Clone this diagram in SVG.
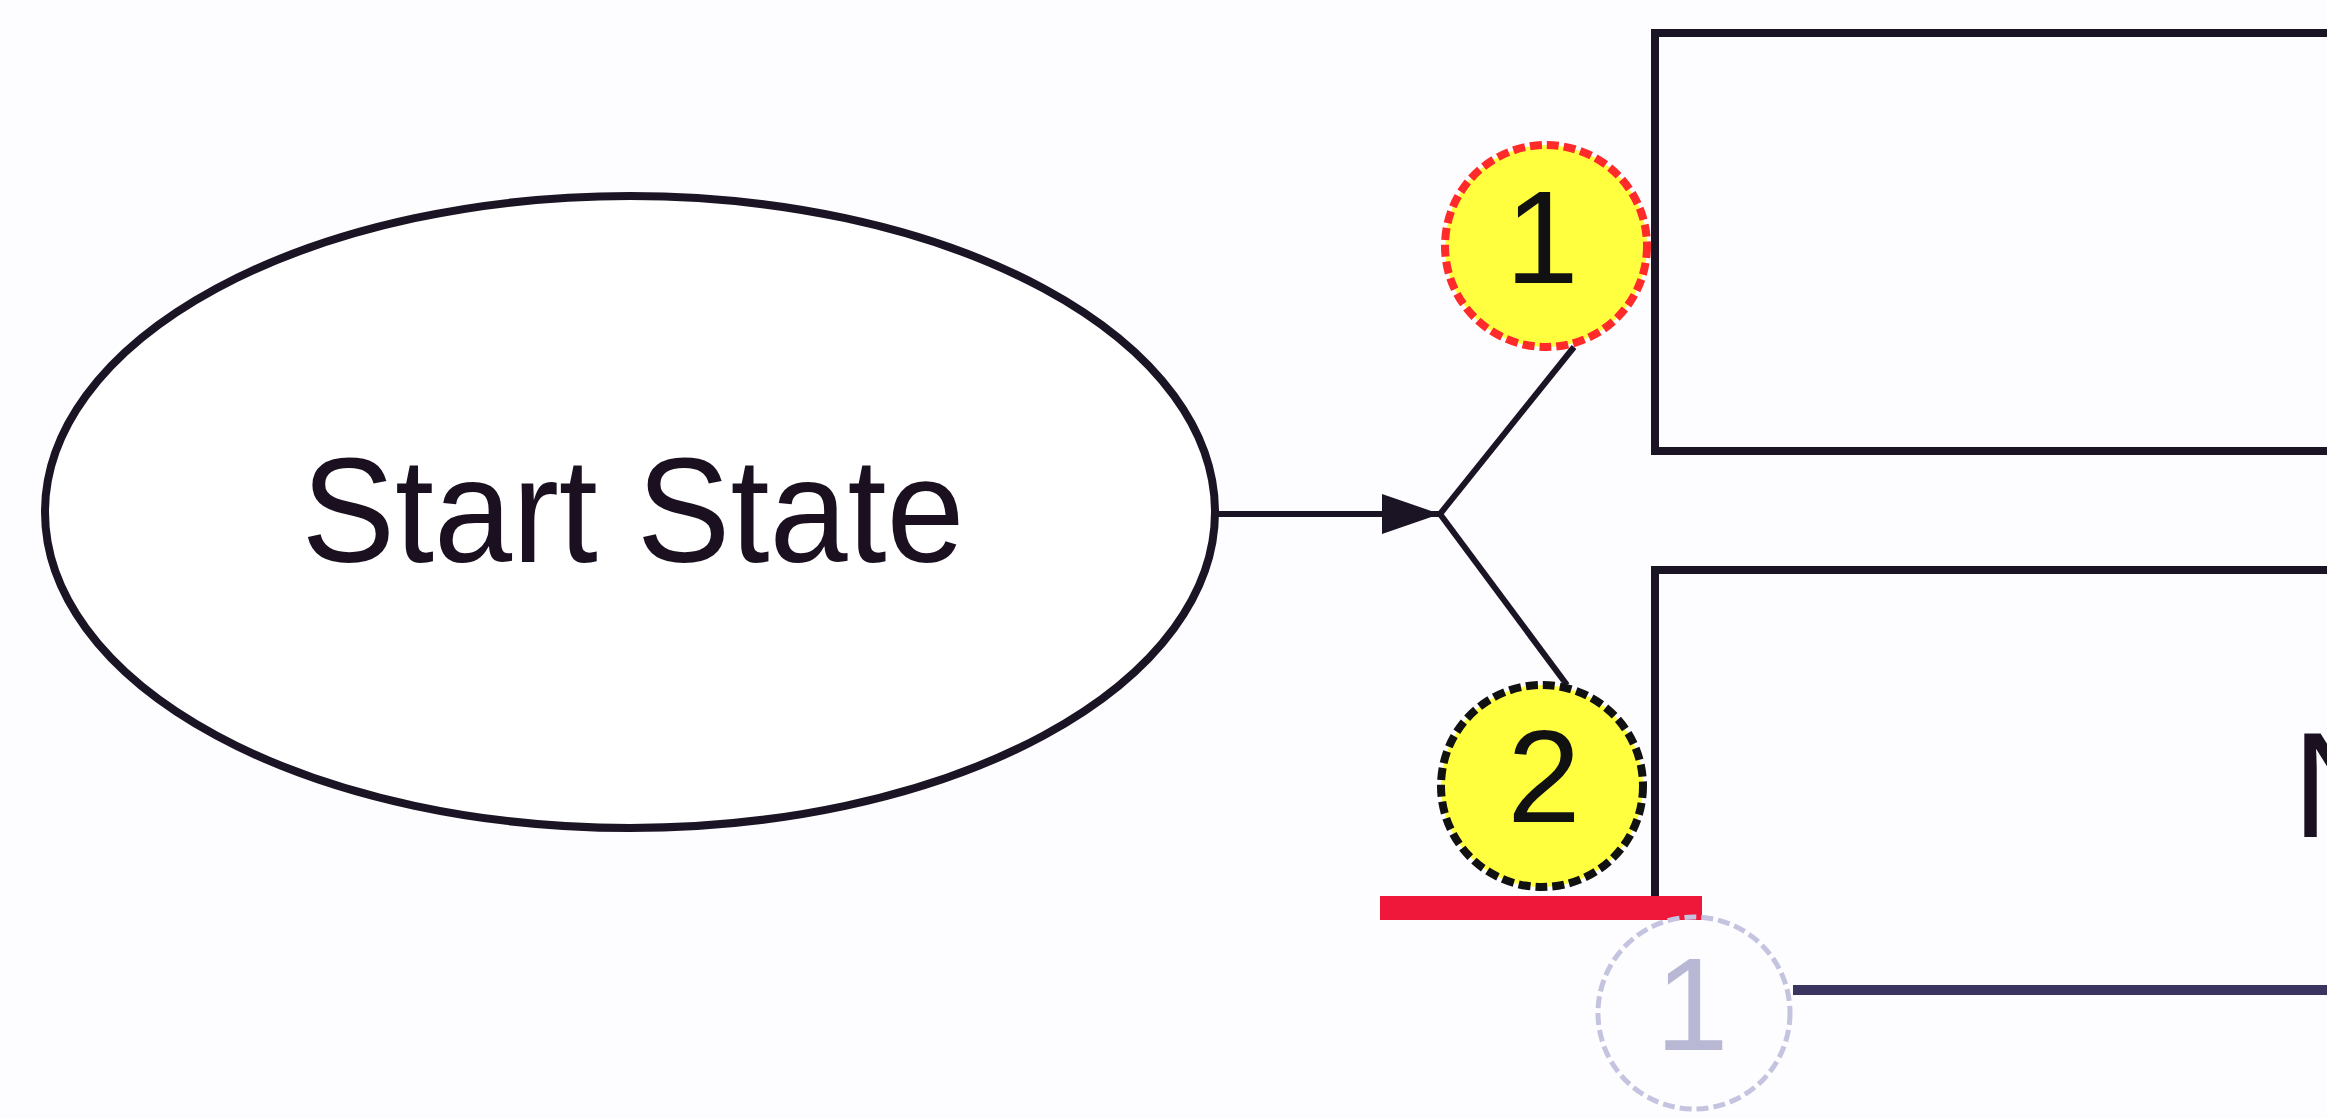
<svg xmlns="http://www.w3.org/2000/svg" width="2327" height="1118" viewBox="0 0 2327 1118">
<style>
.lbl{font-family:"Liberation Sans",Arial,sans-serif;fill:#1a1020}
.num{font-family:"Liberation Sans",Arial,sans-serif;font-size:132px;text-anchor:middle}
.edge{fill:none;stroke:#1a1424;stroke-width:8}
.conn{fill:none;stroke:#1a1424;stroke-width:6}
.badge{fill:#ffff40;stroke-width:8;stroke-dasharray:12 5}
</style>
<defs>
<marker id="arrow" markerUnits="userSpaceOnUse" markerWidth="60" markerHeight="44" refX="58" refY="20" orient="auto">
<path d="M0,0 L58,20 L0,40 Z" fill="#1a1424"/>
</marker>
</defs>
<rect width="2327" height="1118" fill="#fdfdff"/>

<g id="start-state">
<ellipse cx="630" cy="512" rx="585" ry="316" fill="#ffffff" stroke="#1a1424" stroke-width="8"/>
<text class="lbl" x="633" y="562" font-size="148" text-anchor="middle" textLength="663" lengthAdjust="spacingAndGlyphs">Start State</text>
</g>

<g id="state-1">
<path class="edge" d="M2327,33 H1655 V451 H2327"/>
</g>

<g id="state-2">
<path class="edge" d="M2327,570 H1655 V905"/>
<text class="lbl" x="2292" y="837" font-size="150">N</text>
</g>

<g id="connectors">
<line class="conn" x1="1215" y1="514" x2="1440" y2="514" stroke-width="7" marker-end="url(#arrow)"/>
<line class="conn" x1="1440" y1="514" x2="1574" y2="347"/>
<line class="conn" x1="1440" y1="514" x2="1567" y2="685"/>
<line x1="1793" y1="990" x2="2327" y2="990" stroke="#3a3460" stroke-width="10"/>
</g>

<g id="badge-1">
<circle class="badge" cx="1546" cy="246" r="101" stroke="#ff2a2a"/>
<text class="num" x="1542" y="283" fill="#111">1</text>
</g>

<g id="badge-2">
<circle class="badge" cx="1542" cy="786" r="101" stroke="#111"/>
<text class="num" x="1544" y="822" fill="#111">2</text>
</g>

<g id="red-bar">
<line x1="1380" y1="908" x2="1702" y2="908" stroke="#f0183a" stroke-width="24"/>
</g>

<g id="badge-3">
<circle cx="1694" cy="1013" r="96" fill="none" stroke="#c4c4e0" stroke-width="5" stroke-dasharray="12 5"/>
<text class="num" x="1692" y="1050" fill="#b8b8d4">1</text>
</g>
</svg>
